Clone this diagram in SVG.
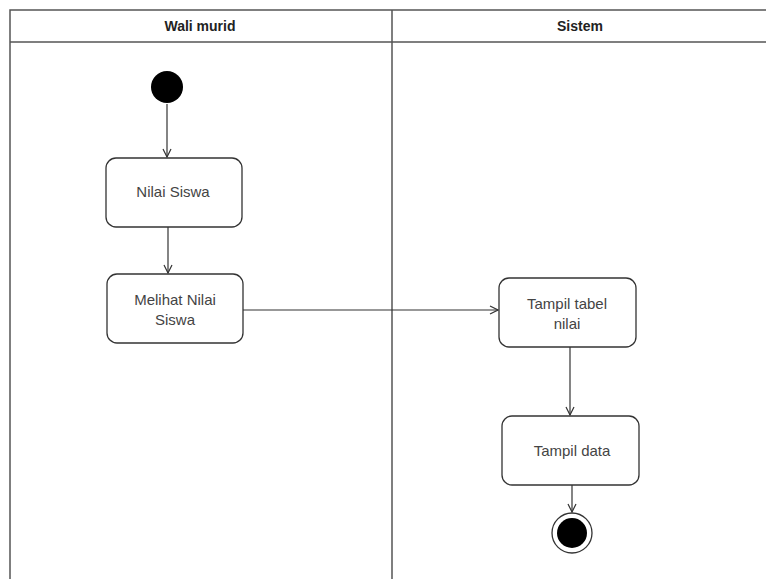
<svg xmlns="http://www.w3.org/2000/svg" width="766" height="579" viewBox="0 0 766 579">
  <style>
    .lane { fill: none; stroke: #555; stroke-width: 1.5; }
    .head { font-family: "Liberation Sans", Arial, sans-serif; font-size: 14px; font-weight: bold; fill: #222; text-anchor: middle; }
    .box { fill: #fff; stroke: #333; stroke-width: 1.3; }
    .lbl { font-family: "Liberation Sans", Arial, sans-serif; font-size: 15px; fill: #444; text-anchor: middle; }
    .edge { fill: none; stroke: #333; stroke-width: 1.2; marker-end: url(#open); }
  </style>
  <defs>
    <marker id="open" viewBox="0 0 10 10" refX="9" refY="5" markerWidth="10" markerHeight="10" markerUnits="userSpaceOnUse" orient="auto">
      <path d="M1,1 L9,5 L1,9" fill="none" stroke="#333" stroke-width="1.2"/>
    </marker>
  </defs>
  <rect width="766" height="579" fill="#fff"/>

  <!-- swimlanes -->
  <g id="lanes">
    <path class="lane" d="M10,579 V10 H766 M10,42 H766 M392,10 V579"/>
    <text class="head" x="200" y="31">Wali murid</text>
    <text class="head" x="580" y="31">Sistem</text>
  </g>

  <!-- connectors -->
  <g id="connectors">
    <path class="edge" d="M167,104 V157"/>
    <path class="edge" d="M168,227 V273"/>
    <path class="edge" d="M243,310 H498"/>
    <path class="edge" d="M570,347 V415"/>
    <path class="edge" d="M572,485 V512"/>
  </g>

  <g id="start">
    <circle cx="167" cy="87" r="16" fill="#000"/>
  </g>
  <g id="nilai-siswa">
    <rect class="box" x="106" y="158" width="136" height="69" rx="10"/>
    <text class="lbl" x="173" y="197">Nilai Siswa</text>
  </g>
  <g id="melihat-nilai-siswa">
    <rect class="box" x="107" y="274" width="136" height="69" rx="10"/>
    <text class="lbl" x="175" y="305">Melihat Nilai</text>
    <text class="lbl" x="175" y="325">Siswa</text>
  </g>
  <g id="tampil-tabel-nilai">
    <rect class="box" x="499" y="278" width="137" height="69" rx="10"/>
    <text class="lbl" x="567" y="309">Tampil tabel</text>
    <text class="lbl" x="567" y="329">nilai</text>
  </g>
  <g id="tampil-data">
    <rect class="box" x="502" y="416" width="137" height="69" rx="10"/>
    <text class="lbl" x="572" y="456">Tampil data</text>
  </g>
  <g id="end">
    <circle cx="572" cy="533" r="20" fill="#fff" stroke="#333" stroke-width="1.3"/>
    <circle cx="572" cy="533" r="15" fill="#000"/>
  </g>
</svg>
